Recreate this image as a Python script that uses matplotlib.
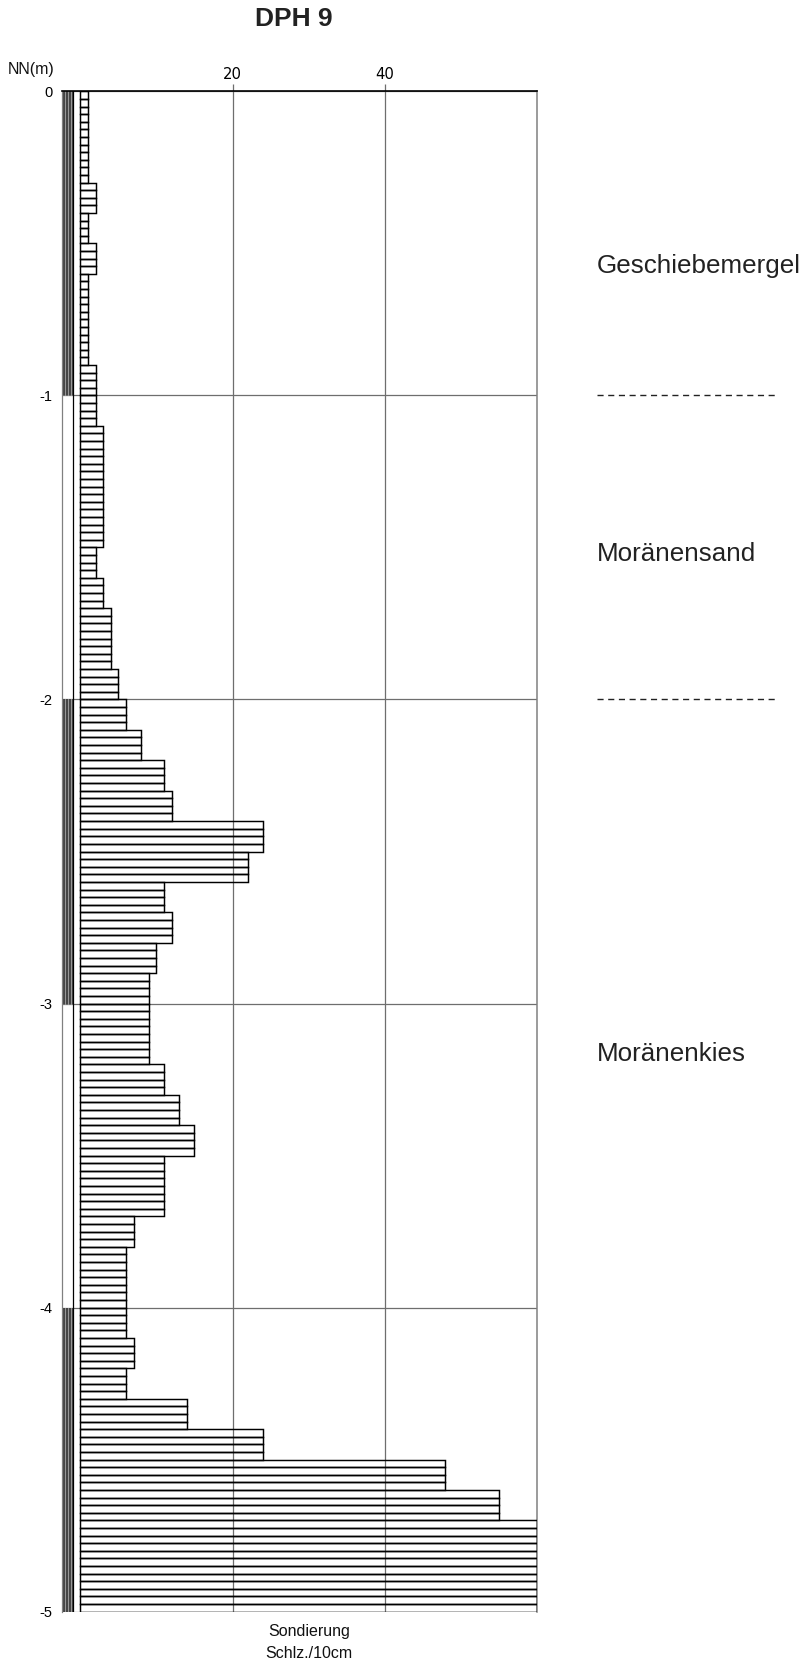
import numpy as np
import matplotlib
matplotlib.use("Agg")
import matplotlib.pyplot as plt
from matplotlib.patches import Rectangle

plt.rcParams['font.family'] = ['Liberation Sans', 'DejaVu Sans']

# blow counts per 10 cm, from 0 m down to -5 m
blows = [1, 1, 1, 2, 1, 2, 1, 1, 1, 2,
         2, 3, 3, 3, 3, 2, 3, 4, 4, 5,
         6, 8, 11, 12, 24, 22, 11, 12, 10, 9,
         9, 9, 11, 13, 15, 11, 11, 7, 6, 6,
         6, 7, 6, 14, 24, 48, 55, 60, 60, 60]
step = 0.1          # m per blow count
sub = 4             # each step drawn as 4 thin bars

depth_ticks = [0, -1, -2, -3, -4, -5]
count_ticks = [20, 40]

# shaded metre bands of the depth scale
shaded = [(0, -1), (-2, -3), (-4, -5)]

# soil layers: name, label baseline depth
layer_names = ["Geschiebemergel", "Moränensand", "Moränenkies"]
layer_label_y = [-0.598, -1.544, -3.19]
layer_bounds = [-1, -2]

W, H = 806, 1663
fig = plt.figure(figsize=(W / 100, H / 100), dpi=100)

x0, x1 = 62, 536.7       # axes left/right in px
y0, y1 = 91.3, 1611.7    # axes top/bottom in px
zero_px = 80.4
ppu = (x1 - zero_px) / 60.0
ax = fig.add_axes([x0 / W, 1 - y1 / H, (x1 - x0) / W, (y1 - y0) / H])
xmin = -(zero_px - x0) / ppu
ax.set_xlim(xmin, 60)
ax.set_ylim(-5, 0)

# bars
vals = np.repeat(blows, sub)
h = step / sub
bottoms = -(np.arange(len(vals)) + 1) * h
ax.barh(bottoms, vals, height=h, left=0, align='edge',
        facecolor='none', edgecolor='black', linewidth=1.05, zorder=3)

# depth scale column
col_r = (73.4 - zero_px) / ppu
for top, bot in shaded:
    ax.add_patch(Rectangle((xmin, bot), col_r - xmin, top - bot,
                           facecolor='#454545', edgecolor='none', zorder=2))
    for xs in np.linspace(xmin, col_r, 5)[1:-1]:
        ax.plot([xs, xs], [bot, top], color='#a8a8a8', lw=0.6, zorder=2.5)
ax.axvline(col_r, color='black', lw=0.9, zorder=3)

# grid and axes styling
ax.set_xticks(count_ticks)
ax.set_yticks(depth_ticks)
ax.set_yticklabels([str(t) for t in depth_ticks])
ax.grid(True, color='#6e6e6e', lw=0.9, zorder=1)
ax.set_axisbelow(True)
ax.xaxis.tick_top()
ax.tick_params(axis='x', direction='out', length=5, width=0.9, color='#6e6e6e',
               pad=1.5, labelsize=10.7, labelfontfamily='DejaVu Sans')
ax.tick_params(axis='y', length=0, pad=7, labelsize=10.5)
ax.spines['top'].set_color('black')
ax.spines['top'].set_linewidth(1.2)
ax.spines['left'].set_color('#808080')
ax.spines['left'].set_linewidth(0.9)
ax.spines['right'].set_color('#808080')
ax.spines['right'].set_linewidth(1.1)
ax.spines['bottom'].set_visible(False)

# titles and labels
fig.text(293.8 / W, 1 - 26 / H, "DPH 9", ha='center', va='baseline',
         fontsize=19, fontweight='bold', color='#222222')
fig.text(7.3 / W, 1 - 74 / H, "NN(m)", ha='left', va='baseline',
         fontsize=11.5, color='#111111')
fig.text(309 / W, 1 - 1636 / H, "Sondierung", ha='center', va='baseline',
         fontsize=11.5, color='#111111')
fig.text(309 / W, 1 - 1657.7 / H, "Schlz./10cm", ha='center', va='baseline',
         fontsize=11.5, color='#111111')

# layer descriptions to the right
lx = (597 - zero_px) / ppu
lx_end = (777 - zero_px) / ppu
for name, y in zip(layer_names, layer_label_y):
    ax.text(lx, y, name, ha='left', va='baseline', fontsize=18.7,
            color='#222222', clip_on=False)
for yb in layer_bounds:
    ax.plot([lx, lx_end], [yb, yb], color='#222222', lw=1.0,
            linestyle=(0, (4.4, 3.3)), clip_on=False)

fig.savefig("out.png", dpi=100, facecolor='white')
